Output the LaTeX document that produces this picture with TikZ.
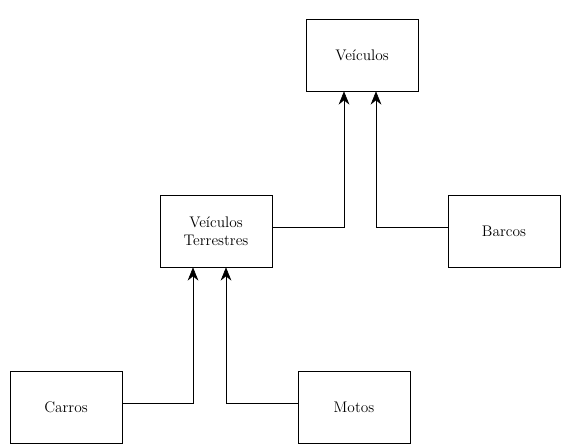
\documentclass[tikz,border=0pt]{standalone}
\usetikzlibrary{arrows.meta}
\tikzset{
    classe/.style={draw=black, minimum width=84pt, minimum height=54pt, align=center, font=\fontsize{11.5}{13.8}\selectfont},
    heranca/.style={-{Stealth[length=10pt, width=8pt]}}}

\begin{document}
\begin{tikzpicture}[x=0.75pt, y=-0.75pt]

    \useasboundingbox (0,0) rectangle (564,447);

    \node[classe] (veic) at (362,55) {Veículos};
    \node[classe] (terr) at (216,231) {Veículos\\Terrestres};
    \node[classe] (barc) at (504,231) {Barcos};
    \node[classe] (carr) at (66,407) {Carros};
    \node[classe] (moto) at (354,407) {Motos};

    \draw[heranca] ([yshift=3pt]terr.east) -| ([xshift=-13.5pt]veic.south);
    \draw[heranca] ([yshift=3pt]barc.west) -| ([xshift=10.5pt]veic.south);
    \draw[heranca] ([yshift=3pt]carr.east) -| ([xshift=-17.25pt]terr.south);
    \draw[heranca] ([yshift=3pt]moto.west) -| ([xshift=7.5pt]terr.south);

\end{tikzpicture}
\end{document}
